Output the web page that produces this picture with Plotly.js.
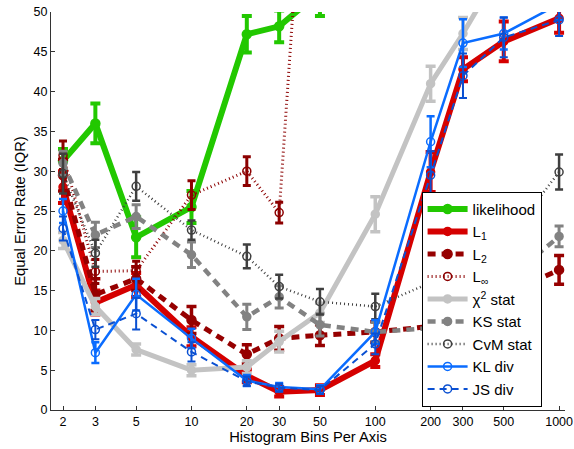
<!DOCTYPE html>
<html>
<head>
<meta charset="utf-8">
<script src="https://cdn.plot.ly/plotly-3.0.1.min.js"></script>
<style>html,body{margin:0;padding:0;background:#fff;}#chart{width:574px;height:449px;}</style>
</head>
<body>
<div id="chart"></div>
<script>
// Histogram bins per axis (x categories)
const bins = [2, 3, 5, 10, 20, 30, 50, 100, 200, 300, 500, 1000];
const tickLabels = ["2","3","5","10","20","30","50","100","200","300","500","1000"];

// Series values (Equal Error Rate, IQR) and error half-widths
const likelihoodBins = [2, 3, 5, 10, 20, 30, 50];
const likelihood     = [31.3, 36.0, 21.7, 25.5, 47.2, 48.2, 52.5];
const likelihoodErr  = [1.5, 2.5, 2.5, 2.0, 2.3, 2.0, 3.0];

const l1    = [28.0, 13.5, 15.7, 9.2, 4.3, 2.3, 2.5, 6.2, 29.9, 42.8, 46.3, 49.2];
const l1Err = [2.0, 1.5, 1.5, 1.2, 0.8, 0.6, 0.6, 0.8, 2.5, 1.5, 2.5, 1.8];

const l2    = [29.5, 14.5, 16.5, 11.3, 7.0, 9.0, 9.4, 9.8, 10.5, 11.5, 14.5, 17.6];
const l2Err = [2.0, 2.0, 1.5, 1.7, 1.2, 1.5, 1.3, 1.3, 1.5, 1.5, 1.5, 1.8];

const linfBins = [2, 3, 5, 10, 20, 30, 50];
const linf     = [32.0, 17.4, 17.5, 27.0, 30.0, 24.8, 100];
const linfErr  = [1.8, 1.5, 1.2, 1.8, 1.8, 1.3, 3.0];

const chi2    = [21.3, 13.0, 7.6, 5.0, 5.4, 8.6, 12.2, 24.6, 41.0, 47.3, 56.0, 65.0];
const chi2Err = [1.0, 1.0, 0.7, 0.7, 0.8, 1.3, 1.2, 2.2, 2.2, 2.0, 3.0, 3.0];

const ks    = [31.0, 22.0, 24.3, 19.5, 11.7, 14.2, 10.7, 9.8, 10.3, 12.0, 16.0, 21.8];
const ksErr = [1.5, 1.6, 1.5, 1.6, 1.6, 1.4, 1.4, 1.2, 1.2, 1.2, 1.5, 1.3];

const cvm    = [29.7, 19.7, 28.1, 22.6, 19.3, 15.5, 13.6, 13.0, 16.0, 18.0, 20.8, 29.9];
const cvmErr = [2.5, 1.7, 1.8, 1.2, 1.5, 1.5, 1.6, 1.6, 1.5, 1.5, 1.5, 2.2];

const kl    = [25.0, 7.2, 14.5, 9.0, 3.7, 2.9, 2.6, 9.8, 33.7, 46.1, 47.3, 51.0];
const klErr = [1.5, 1.3, 2.0, 1.2, 0.7, 0.5, 0.5, 1.5, 3.2, 3.0, 2.0, 2.0];

const js    = [22.8, 10.1, 12.1, 7.3, 3.6, 2.8, 2.5, 8.3, 29.5, 42.0, 46.8, 49.0];
const jsErr = [1.5, 1.2, 2.0, 1.2, 0.6, 0.5, 0.5, 1.3, 3.0, 2.8, 2.5, 2.0];

function series(name, xs, ys, errs, color, lw, dash, symbol, msize, ethick, ewidth) {
  return {
    type: 'scatter', mode: 'lines+markers', name: name,
    x: xs, y: ys,
    line: {color: color, width: lw, dash: dash},
    marker: {color: color, symbol: symbol, size: msize, line: {color: color, width: 1.5}},
    error_y: {type: 'data', array: errs, visible: true, color: color, thickness: ethick, width: ewidth},
    cliponaxis: true
  };
}

const traces = [
  series('likelihood', likelihoodBins, likelihood, likelihoodErr, '#22c800', 6, 'solid', 'circle', 9, 4, 5),
  series('L<sub>1</sub>', bins, l1, l1Err, '#d50000', 6, 'solid', 'circle', 8, 4, 5),
  series('L<sub>2</sub>', bins, l2, l2Err, '#960000', 5, '8px,6px', 'circle', 9, 3.5, 5),
  series('L<sub>∞</sub>', linfBins, linf, linfErr, '#8c0000', 3, '1px,3px', 'circle-open', 8, 3, 4),
  series('χ<sup>2</sup> stat', bins, chi2, chi2Err, '#c3c3c3', 5, 'solid', 'circle', 8, 3.5, 5),
  series('KS stat', bins, ks, ksErr, '#828282', 4.5, '8px,6px', 'circle', 8, 3, 4.5),
  series('CvM stat', bins, cvm, cvmErr, '#3f3f3f', 2.5, '1px,3px', 'circle-open', 8, 2.5, 4),
  series('KL div', bins, kl, klErr, '#0a6cff', 2.5, 'solid', 'circle-open', 8, 2.5, 4),
  series('JS div', bins, js, jsErr, '#0a50d2', 2, '7px,5px', 'circle-open', 8, 2, 4)
];

const layout = {
  width: 574, height: 449,
  margin: {l: 51, r: 9, t: 12, b: 39},
  paper_bgcolor: '#ffffff', plot_bgcolor: '#ffffff',
  font: {family: 'Liberation Sans, Arial, sans-serif', color: '#000', size: 12.5},
  showlegend: true,
  legend: {
    x: 0.721, y: 0.5485, xanchor: 'left', yanchor: 'top',
    bgcolor: '#ffffff', bordercolor: '#000000', borderwidth: 1,
    font: {size: 15, family: 'Liberation Sans, Arial, sans-serif'},
    itemwidth: 40, tracegroupgap: 0
  },
  xaxis: {
    type: 'log', range: [0.2357, 3.0322],
    tickvals: bins, ticktext: tickLabels,
    ticks: 'inside', ticklen: 4, tickcolor: '#333',
    showline: true, linecolor: '#333', linewidth: 1, mirror: false,
    showgrid: false, zeroline: false,
    tickfont: {size: 12.5},
    title: {text: 'Histogram Bins Per Axis', font: {size: 14.7}, standoff: 2}
  },
  yaxis: {
    range: [0, 50], tickvals: [0,5,10,15,20,25,30,35,40,45,50],
    ticks: 'inside', ticklen: 4, tickcolor: '#333',
    showline: true, linecolor: '#333', linewidth: 1, mirror: false,
    showgrid: false, zeroline: false,
    tickfont: {size: 12.5},
    title: {text: 'Equal Error Rate (IQR)', font: {size: 14.7}, standoff: 4}
  }
};

Plotly.newPlot('chart', traces, layout, {displayModeBar: false, staticPlot: true});
</script>
</body>
</html>
